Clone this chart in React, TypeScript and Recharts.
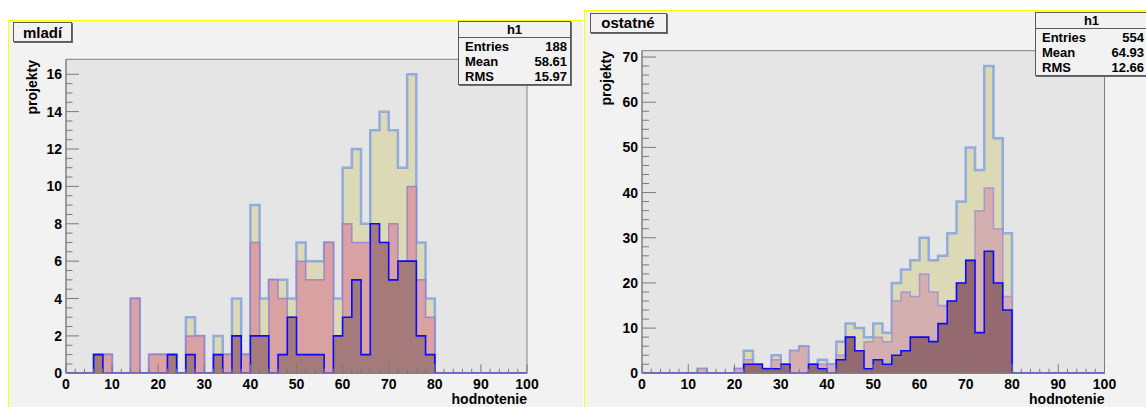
import { ComposedChart, Area, XAxis, YAxis, CartesianGrid, ReferenceArea } from "recharts"

const BIN_WIDTH = 2

// mladí – counts per 2-point bin (0–100)
const mladiAll = [0, 0, 0, 1, 1, 0, 0, 4, 0, 1, 1, 1, 0, 3, 2, 0, 2, 1, 4, 1, 9, 4, 5, 5, 4, 7, 6, 6, 7, 4, 11, 12, 8, 13, 14, 13, 11, 16, 7, 4, 0, 0, 0, 0, 0, 0, 0, 0, 0, 0]
const mladiMid = [0, 0, 0, 1, 1, 0, 0, 4, 0, 1, 1, 1, 0, 2, 2, 0, 1, 1, 2, 1, 7, 2, 5, 4, 3, 6, 5, 5, 7, 2, 8, 7, 7, 8, 7, 8, 6, 10, 5, 3, 0, 0, 0, 0, 0, 0, 0, 0, 0, 0]
const mladiLow = [0, 0, 0, 1, 0, 0, 0, 0, 0, 0, 0, 1, 0, 1, 0, 0, 1, 0, 2, 0, 2, 2, 0, 1, 3, 1, 1, 1, 0, 2, 3, 5, 1, 8, 7, 5, 6, 6, 2, 1, 0, 0, 0, 0, 0, 0, 0, 0, 0, 0]
const mladiYLabels = [0, 2, 4, 6, 8, 10, 12, 14, 16]
const mladiStats = ["188", "58.61", "15.97"]

// ostatné
const ostatneAll = [0, 0, 0, 0, 0, 0, 1, 0, 0, 0, 1, 5, 2, 1, 4, 2, 5, 6, 2, 3, 2, 7, 11, 10, 8, 11, 9, 20, 23, 25, 30, 25, 26, 31, 38, 50, 45, 68, 52, 31, 0, 0, 0, 0, 0, 0, 0, 0, 0, 0]
const ostatneMid = [0, 0, 0, 0, 0, 0, 1, 0, 0, 0, 1, 3, 2, 1, 3, 2, 5, 6, 2, 2, 2, 4, 8, 5, 7, 8, 7, 16, 18, 17, 22, 18, 15, 16, 20, 25, 36, 41, 32, 17, 0, 0, 0, 0, 0, 0, 0, 0, 0, 0]
const ostatneLow = [0, 0, 0, 0, 0, 0, 0, 0, 0, 0, 0, 2, 2, 1, 1, 2, 0, 0, 2, 1, 0, 3, 8, 5, 1, 3, 2, 4, 5, 8, 8, 7, 11, 16, 20, 25, 9, 27, 20, 14, 0, 0, 0, 0, 0, 0, 0, 0, 0, 0]
const ostatneYLabels = [0, 10, 20, 30, 40, 50, 60, 70]
const ostatneStats = ["554", "64.93", "12.66"]

const xLabels = [0, 10, 20, 30, 40, 50, 60, 70, 80, 90, 100]
const statNames = ["Entries", "Mean", "RMS"]

const FONT = '"Liberation Sans", Arial, Helvetica, sans-serif'
const TICK_COLOR = "#7a7a7a"
const FRAME_COLOR = "#808080"

// step-histogram rows: one point per bin edge, last edge closes the contour
const buildRows = (all: number[], mid: number[], low: number[]) =>
    [...all, 0].map((_, i) => ({
        x: i * BIN_WIDTH,
        all: all[i] ?? 0,
        mid: mid[i] ?? 0,
        low: low[i] ?? 0,
    }))

const withMinor = (labels: number[], step: number) => {
    const out: number[] = []
    const last = labels[labels.length - 1]
    for (let v = labels[0]; v <= last + 1e-9; v += step) out.push(Math.round(v * 100) / 100)
    return out
}

const xTicks = withMinor(xLabels, BIN_WIDTH)

function XTick(props: any) {
    const { x, y, payload } = props
    const v = payload.value
    const major = xLabels.includes(v)
    return (
        <g>
            <line x1={x} x2={x} y1={y} y2={y - (major ? 9 : 4.5)} stroke={TICK_COLOR} strokeWidth={1} />
            {major && (
                <text x={x} y={y + 16} textAnchor="middle" fontFamily={FONT} fontWeight="bold" fontSize={14} fill="#000">
                    {v}
                </text>
            )}
        </g>
    )
}

const makeYTick = (labels: number[], majorLen: number, minorLen: number) =>
    function YTick(props: any) {
        const { x, y, payload } = props
        const v = payload.value
        const major = labels.includes(v)
        return (
            <g>
                <line x1={x} x2={x + (major ? majorLen : minorLen)} y1={y} y2={y} stroke={TICK_COLOR} strokeWidth={1} />
                {major && (
                    <text x={x - 4} y={y + 5} textAnchor="end" fontFamily={FONT} fontWeight="bold" fontSize={14} fill="#000">
                        {v}
                    </text>
                )}
            </g>
        )
    }

type Colors = {
    allFill: string
    allStroke: string
    midFill: string
    midStroke: string
    lowFill: string
    lowStroke: string
}

type PanelProps = {
    left: number
    top: number
    width: number
    height: number
    title: string
    titleBox: { x: number; y: number; w: number; h: number }
    statBox: { x: number; y: number }
    stats: string[]
    all: number[]
    mid: number[]
    low: number[]
    yMax: number
    yLabels: number[]
    yMinor: number
    yMajorLen: number
    margin: { top: number; right: number }
    xAxisHeight: number
    yTitle: { x: number; y: number }
    xTitle: { right: number; y: number }
    colors: Colors
}

function Panel(p: PanelProps) {
    const rows = buildRows(p.all, p.mid, p.low)
    const yTicks = withMinor(p.yLabels, p.yMinor)
    const YTick = makeYTick(p.yLabels, p.yMajorLen, p.yMajorLen / 2)
    const c = p.colors
    return (
        <>
            <div
                style={{
                    position: "absolute",
                    left: p.left,
                    top: p.top,
                    width: p.width,
                    height: p.height,
                    background: "#f2f2f2",
                    boxShadow: "inset 1px 1px 0 #ffff00",
                }}
            />
            <div style={{ position: "absolute", left: p.left, top: p.top }}>
                <ComposedChart
                    width={p.width}
                    height={p.height}
                    data={rows}
                    margin={{ top: p.margin.top, right: p.margin.right, bottom: 0, left: 0 }}
                >
                    <CartesianGrid horizontal={false} vertical={false} fill="#e5e5e5" />
                    <Area
                        type="stepAfter"
                        dataKey="all"
                        stroke={c.allStroke}
                        strokeWidth={2.5}
                        strokeOpacity={0.8}
                        fill={c.allFill}
                        fillOpacity={1}
                        dot={false}
                        activeDot={false}
                        isAnimationActive={false}
                    />
                    <Area
                        type="stepAfter"
                        dataKey="mid"
                        stroke={c.midStroke}
                        strokeWidth={1.5}
                        strokeOpacity={0.75}
                        fill={c.midFill}
                        fillOpacity={1}
                        dot={false}
                        activeDot={false}
                        isAnimationActive={false}
                    />
                    <Area
                        type="stepAfter"
                        dataKey="low"
                        stroke={c.lowStroke}
                        strokeWidth={1.6}
                        fill={c.lowFill}
                        fillOpacity={1}
                        dot={false}
                        activeDot={false}
                        isAnimationActive={false}
                    />
                    <ReferenceArea x1={0} x2={100} y1={0} y2={p.yMax} fill="none" stroke={FRAME_COLOR} strokeWidth={1} />
                    <XAxis
                        type="number"
                        dataKey="x"
                        domain={[0, 100]}
                        ticks={xTicks}
                        interval={0}
                        tickSize={0}
                        tickMargin={0}
                        tickLine={false}
                        tick={XTick}
                        height={p.xAxisHeight}
                        axisLine={{ stroke: FRAME_COLOR }}
                    />
                    <YAxis
                        type="number"
                        domain={[0, p.yMax]}
                        ticks={yTicks}
                        interval={0}
                        tickSize={0}
                        tickMargin={0}
                        tickLine={false}
                        tick={YTick}
                        width={58}
                        axisLine={{ stroke: FRAME_COLOR }}
                        allowDataOverflow
                    />
                </ComposedChart>
            </div>

            {/* title pave */}
            <div
                style={{
                    position: "absolute",
                    left: p.titleBox.x,
                    top: p.titleBox.y,
                    width: p.titleBox.w,
                    height: p.titleBox.h,
                    boxSizing: "border-box",
                    border: "1px solid #5a5a5a",
                    boxShadow: "1px 1px 0 #6a6a6a",
                    background: "#f2f2f2",
                    display: "flex",
                    alignItems: "center",
                    justifyContent: "center",
                    fontFamily: FONT,
                    fontWeight: "bold",
                    fontSize: 15,
                    color: "#000",
                }}
            >
                {p.title}
            </div>

            {/* stat box */}
            <div
                style={{
                    position: "absolute",
                    left: p.statBox.x,
                    top: p.statBox.y,
                    width: 113,
                    height: 64,
                    boxSizing: "border-box",
                    border: "1px solid #5a5a5a",
                    boxShadow: "1px 1px 0 #6a6a6a",
                    background: "#f2f2f2",
                    fontFamily: FONT,
                    fontWeight: "bold",
                    fontSize: 13,
                    color: "#000",
                }}
            >
                <div style={{ position: "absolute", left: 0, right: 0, top: 0, lineHeight: "15px", textAlign: "center" }}>h1</div>
                <div style={{ position: "absolute", left: 0, right: 0, top: 15, borderTop: "1px solid #5a5a5a" }} />
                {statNames.map((name, i) => (
                    <div
                        key={name}
                        style={{
                            position: "absolute",
                            left: 6,
                            right: 3,
                            top: 16.5 + i * 15.4,
                            lineHeight: "15px",
                            display: "flex",
                            justifyContent: "space-between",
                        }}
                    >
                        <span>{name}</span>
                        <span>{p.stats[i]}</span>
                    </div>
                ))}
            </div>

            {/* axis titles */}
            <div
                style={{
                    position: "absolute",
                    left: p.yTitle.x,
                    top: p.yTitle.y + 80,
                    width: 80,
                    lineHeight: "16px",
                    textAlign: "right",
                    transformOrigin: "left top",
                    transform: "rotate(-90deg)",
                    fontFamily: FONT,
                    fontWeight: "bold",
                    fontSize: 14,
                    whiteSpace: "nowrap",
                }}
            >
                projekty
            </div>
            <div
                style={{
                    position: "absolute",
                    left: p.xTitle.right - 120,
                    top: p.xTitle.y,
                    width: 120,
                    lineHeight: "16px",
                    textAlign: "right",
                    fontFamily: FONT,
                    fontWeight: "bold",
                    fontSize: 14,
                    whiteSpace: "nowrap",
                }}
            >
                hodnotenie
            </div>
        </>
    )
}

export default function App() {
    return (
        <div
            style={{
                position: "absolute",
                left: 0,
                top: 0,
                width: 1146,
                height: 407,
                background: "#fff",
                overflow: "hidden",
            }}
        >
            <Panel
                left={8}
                top={20}
                width={575}
                height={387}
                title="mladí"
                titleBox={{ x: 13, y: 22, w: 59, h: 20 }}
                statBox={{ x: 458, y: 21 }}
                stats={mladiStats}
                all={mladiAll}
                mid={mladiMid}
                low={mladiLow}
                yMax={16.8}
                yLabels={mladiYLabels}
                yMinor={0.5}
                yMajorLen={13}
                margin={{ top: 39.3, right: 56 }}
                xAxisHeight={33.7}
                yTitle={{ x: 23.5, y: 59.5 }}
                xTitle={{ right: 527, y: 391 }}
                colors={{
                    allFill: "#dbd9b6",
                    allStroke: "#7f9fe0",
                    midFill: "#d9a1a1",
                    midStroke: "#8c78d0",
                    lowFill: "#a57a7a",
                    lowStroke: "#0a0aff",
                }}
            />
            <Panel
                left={584}
                top={10}
                width={562}
                height={397}
                title="ostatné"
                titleBox={{ x: 589.5, y: 12.5, w: 77, h: 20 }}
                statBox={{ x: 1035, y: 12 }}
                stats={ostatneStats}
                all={ostatneAll}
                mid={ostatneMid}
                low={ostatneLow}
                yMax={71.4}
                yLabels={ostatneYLabels}
                yMinor={2}
                yMajorLen={14}
                margin={{ top: 40.7, right: 41.5 }}
                xAxisHeight={33.7}
                yTitle={{ x: 598, y: 50.5 }}
                xTitle={{ right: 1104.5, y: 390.5 }}
                colors={{
                    allFill: "#dbd9b6",
                    allStroke: "#7f9fe0",
                    midFill: "#d3b0af",
                    midStroke: "#9a8ad8",
                    lowFill: "#956970",
                    lowStroke: "#0a0aff",
                }}
            />
        </div>
    )
}
